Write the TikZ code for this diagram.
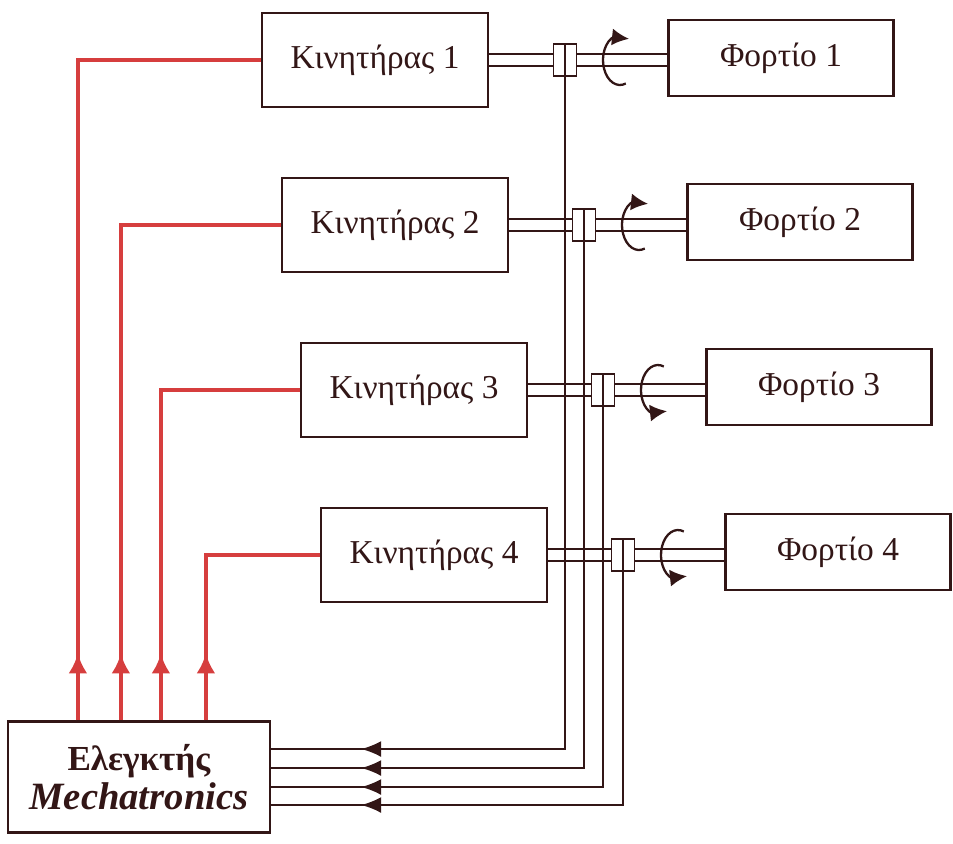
\documentclass[tikz,border=0pt]{standalone}
\usepackage{fontspec}
\setmainfont{Liberation Serif}
\usepackage{tikz}
\usetikzlibrary{positioning}
\usetikzlibrary{arrows.meta, bending}
\usetikzlibrary{calc, decorations.markings}

\definecolor{ink}{RGB}{50,22,22}
\definecolor{sigred}{RGB}{214,62,62}

\begin{document}
\begin{tikzpicture}[x=0.02cm, y=-0.02cm,
	block/.style={draw=ink, line width=1.3pt, fill=white, text=ink,
		minimum width=4.52cm, minimum height=1.88cm, font=\fontsize{19}{21}\selectfont},
	load/.style={block, minimum width=4.5cm, minimum height=1.52cm},
	coupling/.style={draw=ink, line width=1.1pt, fill=white, inner sep=0pt,
		minimum width=0.46cm, minimum height=0.64cm},
	shaft/.style={draw=ink, line width=1.1pt, double=white, double distance=0.2cm},
	rotarrow/.style={draw=ink, line width=1.3pt, -{Latex[length=3.4mm,width=3.4mm,flex]}},
	feedback/.style={draw=ink, line width=1.3pt, postaction={decorate},
		decoration={markings, mark=at position -1.8cm with {\arrow{Latex[length=4mm,width=3.2mm]}}}},
	command/.style={draw=sigred, line width=2.4pt, postaction={decorate},
		decoration={markings, mark=at position 1.34cm with {\arrow{Latex[length=4mm,width=3.8mm]}}}}
	]

		\useasboundingbox (0,0) rectangle (953,843);

		% Motors and loads
		\node[block] (m1) at (375,60)  {Κινητήρας 1};
		\node[block] (m2) at (395,225) {Κινητήρας 2};
		\node[block] (m3) at (414,390) {Κινητήρας 3};
		\node[block] (m4) at (434,555) {Κινητήρας 4};

		\node[load] (l1) at (781,58)  {Φορτίο 1};
		\node[load] (l2) at (800,222) {Φορτίο 2};
		\node[load] (l3) at (819,387) {Φορτίο 3};
		\node[load] (l4) at (838,552) {Φορτίο 4};

		% Controller
		\node[block, minimum width=5.24cm, minimum height=2.22cm, align=center] (ctrl) at (139,777)
			{\fontsize{20}{22}\selectfont\textbf{Ελεγκτής}\\[1pt]
			 \fontsize{22}{22}\selectfont\textbf{\textit{Mechatronics}}};

		% Shafts
		\draw[shaft] (m1.east) -- (m1.east -| l1.west);
		\draw[shaft] (m2.east) -- (m2.east -| l2.west);
		\draw[shaft] (m3.east) -- (m3.east -| l3.west);
		\draw[shaft] (m4.east) -- (m4.east -| l4.west);

		% Couplings
		\node[coupling] (c1) at (565,60)  {};
		\node[coupling] (c2) at (584,225) {};
		\node[coupling] (c3) at (603,390) {};
		\node[coupling] (c4) at (623,555) {};

		% Rotation
		\draw[rotarrow] (c1) ++(60.8,23.5) arc[start angle=-70, end angle=-302, x radius=0.34cm, y radius=0.5cm];
		\draw[rotarrow] (c2) ++(60.8,23.5) arc[start angle=-70, end angle=-302, x radius=0.34cm, y radius=0.5cm];
		\draw[rotarrow] (c3) ++(60.8,-23.5) arc[start angle=70, end angle=302, x radius=0.34cm, y radius=0.5cm];
		\draw[rotarrow] (c4) ++(60.8,-23.5) arc[start angle=70, end angle=302, x radius=0.34cm, y radius=0.5cm];

		% Feedback to the controller
		\draw[feedback] (c1.north) |- ($(ctrl.east)+(0,-28)$);
		\draw[feedback] (c2.north) |- ($(ctrl.east)+(0,-9)$);
		\draw[feedback] (c3.north) |- ($(ctrl.east)+(0,10)$);
		\draw[feedback] (c4.north) |- ($(ctrl.east)+(0,28)$);

		% Commands to the motors
		\draw[command] ($(ctrl.north west)+(71,0)$)  |- (m1.west);
		\draw[command] ($(ctrl.north west)+(114,0)$) |- (m2.west);
		\draw[command] ($(ctrl.north west)+(154,0)$) |- (m3.west);
		\draw[command] ($(ctrl.north west)+(199,0)$) |- (m4.west);

	\end{tikzpicture}
\end{document}
